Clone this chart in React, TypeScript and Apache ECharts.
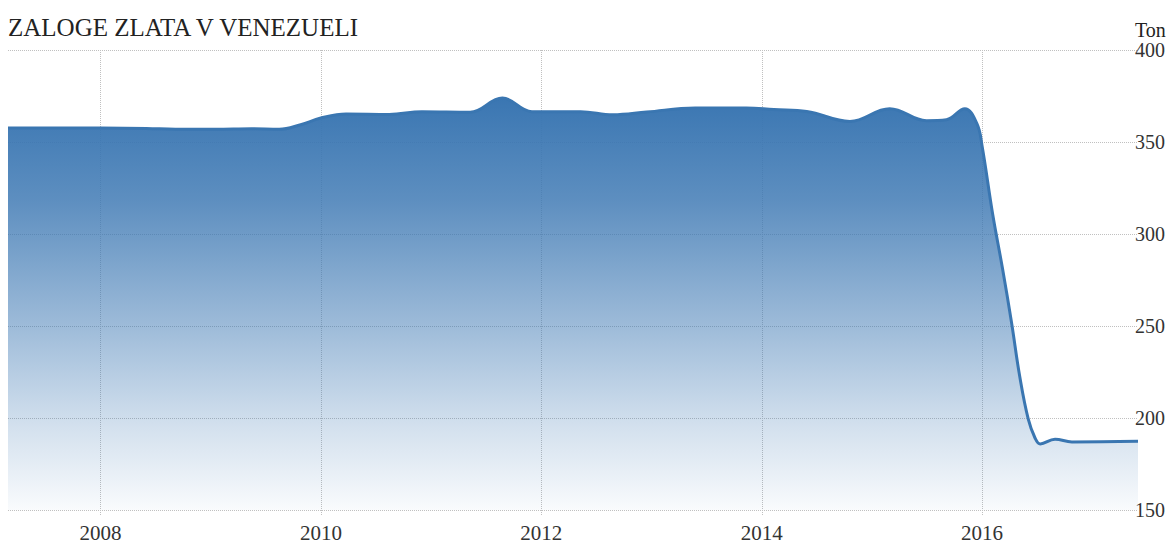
import React, { useEffect, useRef } from "react";
import * as echarts from "echarts";

const FONT = '"Liberation Serif", "Times New Roman", serif';

const dates = [
  "2007-02-28", "2007-08-01", "2008-01-01", "2008-06-01", "2008-09-05",
  "2009-01-15", "2009-05-15", "2009-08-15", "2009-10-25", "2009-12-31",
  "2010-03-25", "2010-08-15", "2010-12-01", "2011-05-10", "2011-08-25",
  "2011-12-01", "2012-05-10", "2012-08-25", "2012-12-15", "2013-05-25",
  "2013-11-10", "2014-02-10", "2014-05-30", "2014-10-20", "2015-03-01",
  "2015-07-01", "2015-09-05", "2015-11-05", "2015-12-15", "2016-01-01",
  "2016-02-05", "2016-03-08", "2016-04-08", "2016-05-05", "2016-06-02",
  "2016-06-25", "2016-07-12", "2016-08-30", "2016-10-25", "2017-06-01",
];

const values = [
  357.6, 357.6, 357.6, 357.4, 356.9,
  356.9, 357.2, 356.9, 359.4, 363.0,
  365.2, 365.0, 366.5, 366.2, 373.9,
  366.5, 366.5, 364.8, 366.3, 368.5,
  368.5, 367.6, 366.6, 361.2, 368.1,
  361.6, 362.1, 368.1, 360.0, 348.0,
  311.0, 282.0, 251.6, 222.5, 199.5,
  189.0, 185.9, 188.5, 187.0, 187.3,
];

const yearLabels = ["2008", "2010", "2012", "2014", "2016"];
const yMin = 150;
const yMax = 400;
const yStep = 50;

const TITLE = "ZALOGE ZLATA V VENEZUELI";
const UNIT = "Ton";

const toTime = (d: string) => new Date(d + "T00:00:00Z").getTime();

export default function App() {
  const ref = useRef<HTMLDivElement>(null);

  useEffect(() => {
    if (!ref.current) return;
    const chart = echarts.init(ref.current, null, { renderer: "svg" });
    const times = dates.map(toTime);
    const tickTimes = yearLabels.map((y) => toTime(y + "-01-01"));
    const gridLine = { color: "#c0c0c0", type: "dotted" as const, width: 1 };

    chart.setOption({
      animation: false,
      backgroundColor: "#ffffff",
      textStyle: { fontFamily: FONT },
      title: {
        text: TITLE,
        left: 8,
        top: 15,
        padding: 0,
        textStyle: {
          fontFamily: FONT,
          fontSize: 25,
          fontWeight: "normal",
          color: "#222222",
        },
      },
      grid: { left: 8, right: 36, top: 50, bottom: 35 },
      xAxis: {
        type: "value",
        min: times[0],
        max: times[times.length - 1],
        axisLine: { show: false },
        axisTick: {
          show: true,
          length: 6,
          customValues: tickTimes,
          lineStyle: gridLine,
        },
        axisLabel: {
          customValues: tickTimes,
          formatter: (v: number) => String(new Date(v).getUTCFullYear()),
          fontFamily: FONT,
          fontSize: 21,
          color: "#333333",
          margin: 12,
        },
        splitLine: { show: true, lineStyle: gridLine },
      },
      yAxis: {
        type: "value",
        position: "right",
        min: yMin,
        max: yMax,
        interval: yStep,
        name: UNIT,
        nameLocation: "end",
        nameGap: 10,
        nameTextStyle: {
          fontFamily: FONT,
          fontSize: 20,
          color: "#222222",
          align: "left",
          padding: [0, 0, 0, -3],
        },
        axisLine: { show: false },
        axisTick: { show: false },
        axisLabel: {
          fontFamily: FONT,
          fontSize: 20,
          color: "#333333",
          margin: -3,
          align: "left",
        },
        splitLine: { show: true, lineStyle: gridLine },
      },
      series: [
        {
          type: "line",
          data: times.map((t, i) => [t, values[i]]),
          smooth: 0.4,
          symbol: "none",
          showSymbol: false,
          lineStyle: { color: "#3a76b1", width: 3 },
          areaStyle: {
            origin: "start",
            opacity: 1,
            color: new echarts.graphic.LinearGradient(0, 0, 0, 1, [
              { offset: 0, color: "rgba(58,118,178,1)" },
              { offset: 0.25, color: "rgba(58,118,178,0.82)" },
              { offset: 0.55, color: "rgba(58,118,178,0.5)" },
              { offset: 0.8, color: "rgba(58,118,178,0.22)" },
              { offset: 1, color: "rgba(58,118,178,0.03)" },
            ]),
          },
        },
      ],
    });

    return () => chart.dispose();
  }, []);

  return (
    <div
      ref={ref}
      style={{ position: "absolute", left: 0, top: 0, width: 1174, height: 545 }}
    />
  );
}
